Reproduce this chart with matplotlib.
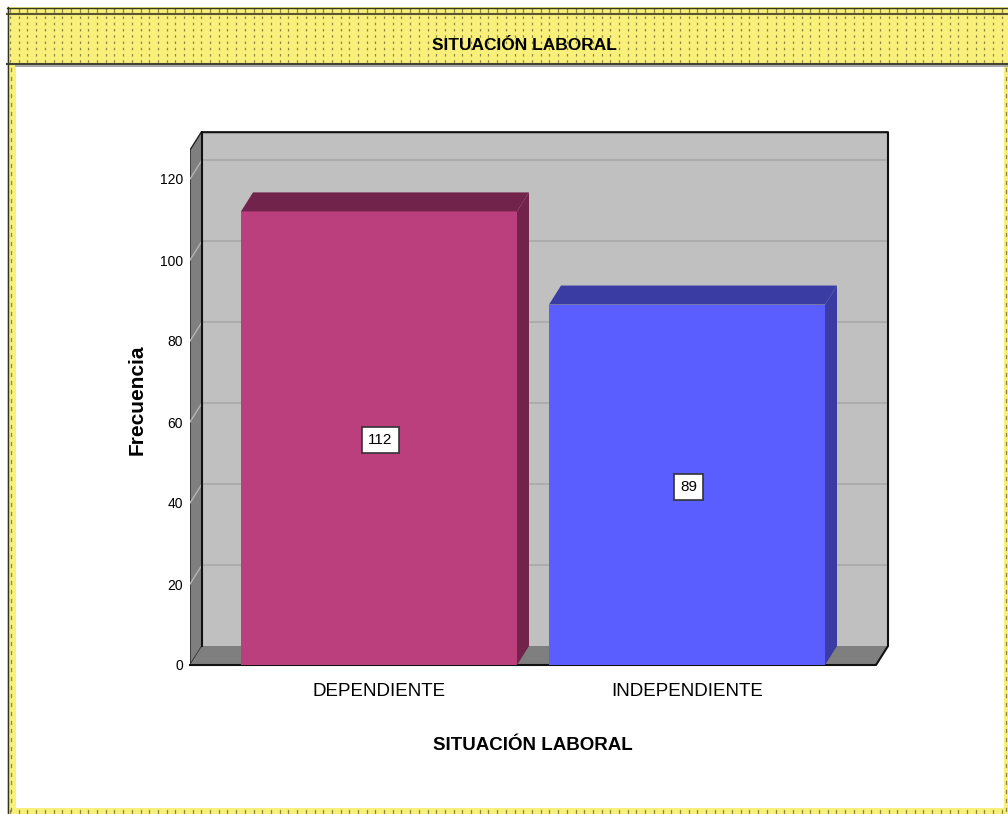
import matplotlib
matplotlib.use("Agg")
import matplotlib.pyplot as plt
from matplotlib.patches import Polygon, Rectangle
import numpy as np

# data
categories = ["DEPENDIENTE", "INDEPENDIENTE"]
counts = [112, 89]
front_colors = ["#bb3f7d", "#5b5eff"]
dark_colors = ["#72234b", "#3a3ca4"]
yticks = [0, 20, 40, 60, 80, 100, 120]

plt.rcParams["font.family"] = ["Liberation Sans", "DejaVu Sans"]

W, H = 1008, 814
fig = plt.figure(figsize=(W / 100, H / 100), dpi=100)
fig.patch.set_facecolor("white")

# frame and header band (pixel based decoration)
deco = fig.add_axes([0, 0, 1, 1])
deco.set_xlim(0, W)
deco.set_ylim(H, 0)
deco.axis("off")
yellow = "#f8f07a"
dots = "#8c8640"
for x0, y0, w, h in [(7, 7, W - 7, 58), (7, 65, 9, H - 65), (7, 808, W - 7, 6), (1004, 65, 4, H - 65)]:
    deco.add_patch(Rectangle((x0, y0), w, h, facecolor=yellow, edgecolor="none"))
for x in np.arange(10, W, 8.7):
    deco.plot([x, x], [16, 63], color=dots, lw=0.9, ls=(0, (2, 3)))
    deco.plot([x, x], [9, 12], color=dots, lw=0.9)
    deco.plot([x, x], [810, 813], color=dots, lw=0.9)
for y in np.arange(68, 808, 8.7):
    deco.plot([11, 11], [y, y + 3], color=dots, lw=0.9)
    deco.plot([1006, 1006], [y, y + 3], color=dots, lw=0.9)
deco.plot([7, W], [7.5, 7.5], color="#333322", lw=1)
deco.plot([7, W], [14, 14], color="#5a5630", lw=1.5)
deco.plot([7, W], [64, 64], color="#444433", lw=1.5)
deco.plot([16, W], [66, 66], color="#999999", lw=1.2)
deco.plot([7.5, 7.5], [7, H], color="#333322", lw=1)
deco.text(524, 45, "SITUACIÓN LABORAL", ha="center", va="center",
          fontsize=12.5, fontweight="bold", color="black")

# main chart axes: front plane
left, right, bottom, top = 190, 888, 665, 131
ax = fig.add_axes([left / W, (H - bottom) / H, (right - left) / W, (bottom - top) / H])
ppu = 4.05
ymax = (bottom - top) / ppu
xpx = 308.0
x0 = -(379 - left) / xpx
x1 = x0 + (right - left) / xpx
ax.set_xlim(x0, x1)
ax.set_ylim(0, ymax)
ddx = 12 / xpx
ddy = 19 / ppu
ax.set_facecolor("white")
for s in ax.spines.values():
    s.set_visible(False)

# walls
ax.add_patch(Rectangle((x0 + ddx, ddy), x1 - x0 - ddx, ymax - ddy,
                       facecolor="#c0c0c0", edgecolor="none", zorder=0))
ax.add_patch(Polygon([(x0, 0), (x0 + ddx, ddy), (x0 + ddx, ymax), (x0, ymax - ddy)],
                     closed=True, facecolor="#7f7f7f", edgecolor="#222222", lw=1, zorder=1))
ax.add_patch(Polygon([(x0, 0), (x1 - ddx, 0), (x1, ddy), (x0 + ddx, ddy)],
                     closed=True, facecolor="#7f7f7f", edgecolor="none", zorder=1))
for v in yticks[1:]:
    ax.plot([x0 + ddx, x1], [v + ddy, v + ddy], color="#a9a9a9", lw=1.2, zorder=0.5)
    ax.plot([x0, x0 + ddx], [v, v + ddy], color="#b5b5b5", lw=1, zorder=1.5)
ax.plot([x0 + ddx, x1, x1, x1 - ddx, x0], [ymax - 0.3, ymax - 0.3, ddy, 0, 0],
        color="#111111", lw=1.5, zorder=2, clip_on=False)
ax.plot([x0 + ddx, x0 + ddx], [ddy, ymax], color="#111111", lw=1.5, zorder=2)

# bars
xs = np.arange(len(categories))
bw = 276 / xpx
ax.bar(xs, counts, width=bw, color=front_colors, edgecolor="none", zorder=3)
for x, c, dc in zip(xs, counts, dark_colors):
    l, r = x - bw / 2, x + bw / 2
    ax.add_patch(Polygon([(l, c), (l + ddx, c + ddy), (r + ddx, c + ddy), (r, c)],
                         closed=True, facecolor=dc, edgecolor="none", zorder=3))
    ax.add_patch(Polygon([(r, 0), (r + ddx, ddy), (r + ddx, c + ddy), (r, c)],
                         closed=True, facecolor=dc, edgecolor="none", zorder=3))
    ax.text(x + 0.005, c / 2 - 0.5, str(c), ha="center", va="center", fontsize=11, zorder=4,
            bbox=dict(boxstyle="square,pad=0.4", facecolor="white", edgecolor="#333333", lw=1.2))

ax.set_yticks(yticks)
ax.set_yticklabels([str(v) for v in yticks], fontsize=10)
ax.set_xticks(xs)
ax.set_xticklabels(categories, fontsize=13.5)
ax.tick_params(axis="y", length=0, pad=5)
ax.tick_params(axis="x", length=0, pad=13)
ax.set_xlabel("SITUACIÓN LABORAL", fontsize=13.5, fontweight="bold", va="center")
ax.xaxis.set_label_coords((533 - left) / (right - left), -(745 - bottom) / (bottom - top))
ax.set_ylabel("Frecuencia", fontsize=15, fontweight="bold", va="center")
ax.yaxis.set_label_coords((137 - left) / (right - left), (bottom - 400) / (bottom - top))

fig.savefig("out.png", dpi=100)
